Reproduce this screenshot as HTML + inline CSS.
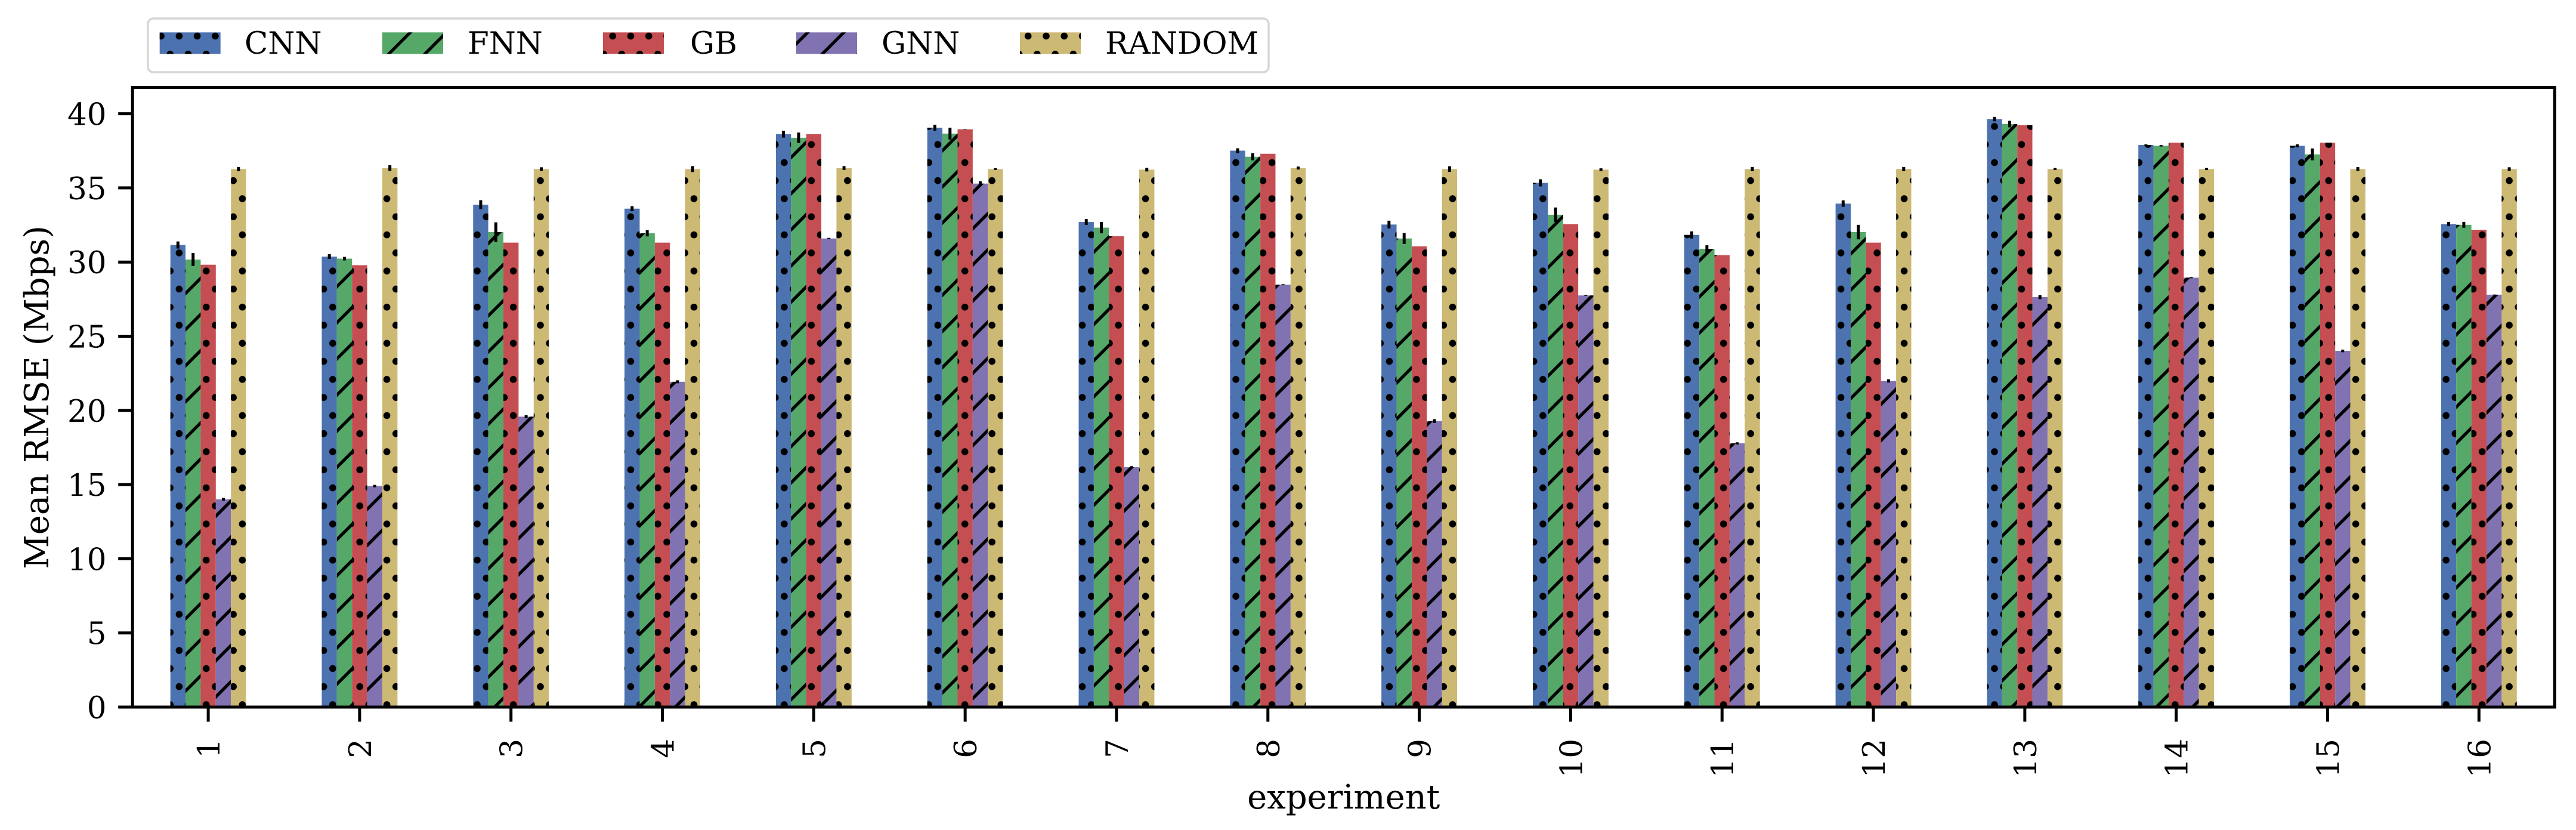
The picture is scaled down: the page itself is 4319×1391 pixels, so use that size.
<!DOCTYPE html>
<html lang="en">
<head>
<meta charset="utf-8">
<title>Mean RMSE by experiment</title>
<style>
html,body{margin:0;padding:0;background:#fff;}
svg{display:block;}
text{font-family:"DejaVu Serif","Liberation Serif",serif;font-size:51.5px;fill:#000;}
text.axis-title{font-size:56px;}
</style>
</head>
<body>
<svg id="chart" xmlns="http://www.w3.org/2000/svg" width="4319" height="1391" viewBox="0 0 4319 1391">
  <defs>
    <pattern id="hatch-dots" patternUnits="userSpaceOnUse" x="5.08" y="15.03" width="30.285" height="60.57">
      <circle cx="7.57" cy="15.14" r="5.8" fill="#000"/>
      <circle cx="22.71" cy="45.43" r="5.8" fill="#000"/>
    </pattern>
    <pattern id="hatch-slash" patternUnits="userSpaceOnUse" x="0" y="15.4" width="60.57" height="60.57">
      <path d="M-5 65.57L65.57 -5M-5 5L5 -5M55.57 65.57L65.57 55.57" stroke="#000" stroke-width="5.2" fill="none"/>
    </pattern>
  </defs>
  <rect x="0" y="0" width="4319" height="1391" fill="#fff"/>
  <g id="bars"></g>
  <g id="errors"></g>
  <g id="axes"></g>

  <g>
    <rect x="248" y="31" width="1879" height="90" rx="9" ry="9" fill="#fff" stroke="#d6d6d6" stroke-width="3.5"/>
    <g>
      <rect x="267.7" y="54.3" width="102" height="36" fill="#4C72B0"/>
      <rect x="267.7" y="54.3" width="102" height="36" fill="url(#hatch-dots)"/>
      <text x="410" y="90">CNN</text>
    </g>
    <g>
      <rect x="641" y="54.3" width="102" height="36" fill="#55A868"/>
      <rect x="641" y="54.3" width="102" height="36" fill="url(#hatch-slash)"/>
      <text x="784" y="90">FNN</text>
    </g>
    <g>
      <rect x="1011" y="54.3" width="102" height="36" fill="#C44E52"/>
      <rect x="1011" y="54.3" width="102" height="36" fill="url(#hatch-dots)"/>
      <text x="1157" y="90">GB</text>
    </g>
    <g>
      <rect x="1335" y="54.3" width="102" height="36" fill="#8172B2"/>
      <rect x="1335" y="54.3" width="102" height="36" fill="url(#hatch-slash)"/>
      <text x="1478" y="90">GNN</text>
    </g>
    <g>
      <rect x="1710" y="54.3" width="102" height="36" fill="#CCB974"/>
      <rect x="1710" y="54.3" width="102" height="36" fill="url(#hatch-dots)"/>
      <text x="1853" y="90">RANDOM</text>
    </g>
  </g>
</svg>
<script>
const categories = ["1","2","3","4","5","6","7","8","9","10","11","12","13","14","15","16"];
const yTicks = [0,5,10,15,20,25,30,35,40];
const cnnValues = [31.15,30.37,33.87,33.60,38.62,39.06,32.70,37.51,32.53,35.34,31.83,33.94,39.64,37.89,37.84,32.56];
const fnnValues = [30.17,30.23,32.02,31.94,38.38,38.66,32.32,37.10,31.59,33.19,30.89,32.02,39.30,37.84,37.26,32.51];
const gbValues = [29.82,29.79,31.31,31.31,38.62,38.95,31.74,37.30,31.06,32.56,30.47,31.31,39.23,38.05,38.05,32.18];
const gnnValues = [14.01,14.90,19.58,21.93,31.59,35.29,16.17,28.48,19.28,27.75,17.78,21.99,27.64,28.95,24.01,27.80];
const randomValues = [36.27,36.34,36.27,36.27,36.34,36.27,36.23,36.34,36.27,36.23,36.27,36.27,36.27,36.27,36.27,36.27];
const cnnErrors = [0.24,0.16,0.30,0.17,0.23,0.20,0.20,0.16,0.26,0.24,0.24,0.22,0.15,0.05,0.10,0.14];
const fnnErrors = [0.44,0.12,0.66,0.21,0.35,0.40,0.38,0.24,0.37,0.49,0.24,0.49,0.22,0.05,0.40,0.20];
const gbErrors = [0,0,0,0,0,0,0,0,0,0,0,0,0,0,0,0];
const gnnErrors = [0.09,0.08,0.10,0.10,0.04,0.16,0.07,0.03,0.13,0.03,0.07,0.11,0.14,0.04,0.09,0.01];
const randomErrors = [0.14,0.19,0.12,0.20,0.13,0.06,0.12,0.10,0.19,0.09,0.14,0.14,0.07,0.07,0.13,0.12];
const seriesNames = ["cnn","fnn","gb","gnn","random"];
const seriesValues = [cnnValues,fnnValues,gbValues,gnnValues,randomValues];
const seriesErrors = [cnnErrors,fnnErrors,gbErrors,gnnErrors,randomErrors];
const seriesColors = ["#4C72B0","#55A868","#C44E52","#8172B2","#CCB974"];
const seriesHatches = ["hatch-dots","hatch-slash","hatch-dots","hatch-slash","hatch-dots"];

const NS = "http://www.w3.org/2000/svg";
const plotLeft = 222.2, plotRight = 4283.2, plotTop = 146.5, plotBottom = 1185;
const strokeW = 5;
const groupStep = (plotRight - plotLeft) / categories.length;
const barWidth = groupStep * 0.1;

function xAxis(i) { return plotLeft + groupStep * (i + 0.5); }
function yAxis(v) { return plotBottom - v * 24.86; }
function make(tag, attrs, parent) {
  const el = document.createElementNS(NS, tag);
  for (const k in attrs) el.setAttribute(k, attrs[k]);
  parent.appendChild(el);
  return el;
}

const barsG = document.getElementById("bars");
const errorsG = document.getElementById("errors");
const axesG = document.getElementById("axes");

categories.forEach(function (cat, i) {
  seriesNames.forEach(function (name, k) {
    const v = seriesValues[k][i];
    const left = xAxis(i) - 2.5 * barWidth + k * barWidth;
    const g = make("g", {}, barsG);
    
    
    const fill = make("rect", { x: left, y: yAxis(v), width: barWidth, height: yAxis(0) - yAxis(v), fill: seriesColors[k] }, g);
    
    
    const hatch = make("rect", { x: left, y: yAxis(v), width: barWidth, height: yAxis(0) - yAxis(v), fill: "url(#" + seriesHatches[k] + ")" }, g);
    
    
    const e = seriesErrors[k][i];
    if (e > 0) {
      const cx = left + barWidth / 2;
      const line = make("line", { x1: cx, x2: cx, y1: yAxis(v + e), y2: yAxis(v - e), stroke: "#000", "stroke-width": 5 }, errorsG);
      
      
    }
  });
});

const frame = make("rect", { x: plotLeft, y: plotTop, width: plotRight - plotLeft, height: plotBottom - plotTop, fill: "none", stroke: "#000", "stroke-width": strokeW }, axesG);



yTicks.forEach(function (t) {
  const tick = make("line", { x1: plotLeft - 24, x2: plotLeft, y1: yAxis(t), y2: yAxis(t), stroke: "#000", "stroke-width": strokeW }, axesG);
  
  
  const label = make("text", { x: 178.5, y: yAxis(t) + 19, "text-anchor": "end" }, axesG);
  label.textContent = String(t);
  
  
});

categories.forEach(function (cat, i) {
  const tick = make("line", { x1: xAxis(i), x2: xAxis(i), y1: plotBottom, y2: plotBottom + 24.5, stroke: "#000", "stroke-width": strokeW }, axesG);
  
  
  const label = make("text", { transform: "translate(" + (xAxis(i) + 19) + ",1238) rotate(-90)", "text-anchor": "end" }, axesG);
  label.textContent = cat;
  
  
});

const xTitle = make("text", { x: (plotLeft + plotRight) / 2, y: 1355, "text-anchor": "middle", "class": "axis-title" }, axesG);
xTitle.textContent = "experiment";



const yTitle = make("text", { transform: "translate(81," + (plotTop + plotBottom) / 2 + ") rotate(-90)", "text-anchor": "middle", "class": "axis-title" }, axesG);
yTitle.textContent = "Mean RMSE (Mbps)";


</script>
</body>
</html>
